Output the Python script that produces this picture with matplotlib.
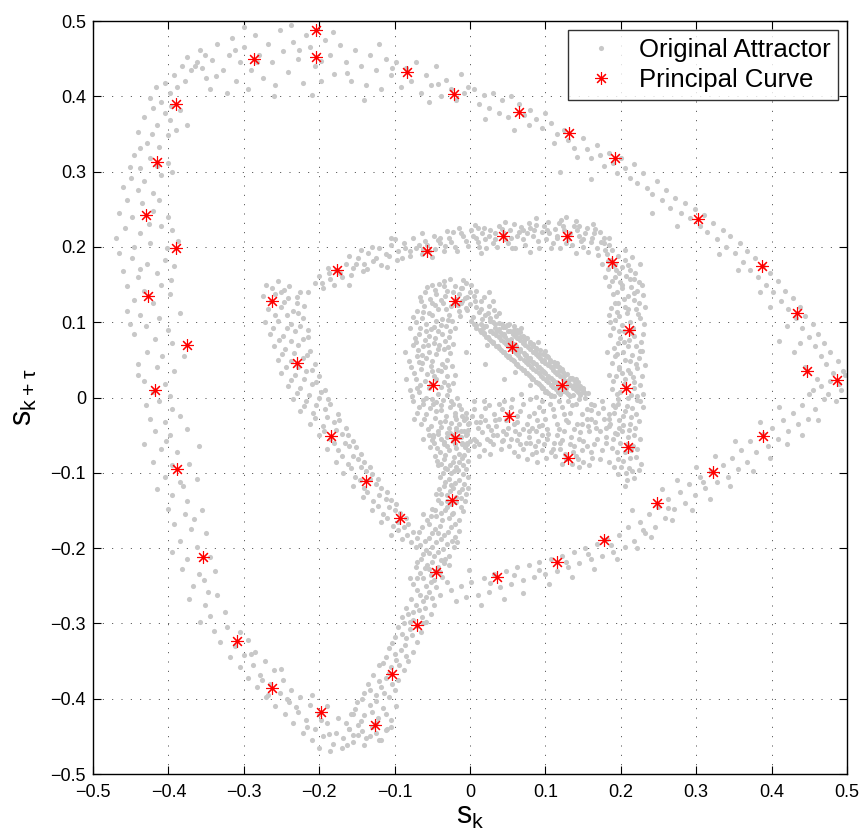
"""
Delay-embedded attractor (s_k vs s_k+tau) with its principal curve.
Grey dots = original attractor, red asterisks = principal curve nodes.
"""

import matplotlib
matplotlib.use("Agg")

import matplotlib.pyplot as plt
import numpy as np

plt.rcParams["font.family"] = ["Liberation Sans", "DejaVu Sans"]
plt.rcParams["mathtext.fontset"] = "custom"
plt.rcParams["mathtext.rm"] = "Liberation Sans"

# -- Principal curve nodes ----------------------------------------------------
curve_x = [-0.204, -0.204, -0.286, -0.084, -0.021, 0.065, 0.131, 0.192, 0.302,
           0.387, 0.434, 0.447, 0.487, 0.389, 0.322, 0.248, 0.178, 0.115,
           0.036, -0.045, -0.024, -0.070, -0.103, -0.126, -0.198, -0.263,
           -0.309, -0.354, -0.389, -0.418, -0.375, -0.427, -0.390, -0.430,
           -0.415, -0.390,
           -0.057, 0.044, 0.129, 0.188, 0.211, 0.207, 0.210, 0.130, 0.122,
           0.052, 0.056, -0.020, -0.049, -0.020, -0.176, -0.263, -0.229,
           -0.184, -0.138, -0.093]
curve_y = [0.488, 0.452, 0.449, 0.432, 0.403, 0.379, 0.351, 0.318, 0.237,
           0.175, 0.112, 0.035, 0.023, -0.051, -0.099, -0.140, -0.189, -0.218,
           -0.238, -0.232, -0.136, -0.302, -0.367, -0.435, -0.418, -0.386,
           -0.323, -0.212, -0.095, 0.010, 0.070, 0.135, 0.199, 0.242,
           0.313, 0.390,
           0.195, 0.214, 0.214, 0.180, 0.090, 0.013, -0.066, -0.080, 0.017,
           -0.025, 0.067, 0.128, 0.017, -0.054, 0.170, 0.128, 0.046,
           -0.051, -0.111, -0.160]

# -- Attractor points (units of 1/1000) --------------------------------------
outer_upper_left = [
    (-425, 398), (-410, 392), (-398, 405), (-388, 412), (-404, 418), (-378, 420),
    (-392, 428), (-370, 435), (-382, 440), (-362, 446), (-355, 438), (-375, 452),
    (-352, 455), (-420, 385), (-432, 372), (-405, 378), (-415, 362), (-398, 368),
    (-440, 352), (-422, 350), (-400, 348), (-385, 382), (-428, 338), (-412, 333),
    (-390, 355), (-375, 362), (-445, 322), (-425, 318), (-438, 305), (-415, 308),
    (-400, 312), (-450, 292), (-432, 288), (-410, 295), (-395, 300), (-440, 275),
    (-420, 272), (-460, 280), (-455, 262), (-435, 258), (-412, 262), (-465, 245),
    (-448, 240), (-420, 248), (-400, 240), (-458, 225), (-438, 218), (-410, 228),
    (-395, 222), (-470, 212), (-425, 205), (-445, 200), (-402, 198), (-465, 192),
    (-448, 185), (-428, 178), (-405, 182), (-392, 175), (-460, 168), (-440, 160),
    (-415, 165), (-455, 148), (-432, 142), (-410, 150), (-445, 130), (-420, 125),
    (-398, 138), (-455, 115), (-438, 110), (-412, 105), (-385, 112), (-430, 95),
    (-400, 90), (-445, 85), (-418, 78), (-395, 72), (-428, 60), (-408, 55),
    (-440, 45), (-415, 40), (-392, 35), (-432, 22), (-405, 18), (-420, 8),
    (-398, 2), (-440, 30), (-417, 412), (-396, 387), (-437, 331), (-451, 306),
    (-426, 231), (-387, 208), (-437, 171), (-397, 156), (-451, 97), (-379, 55),
]
outer_top = [
    (-365, 440), (-358, 462), (-350, 425), (-342, 448), (-335, 470), (-328, 435),
    (-320, 455), (-315, 478), (-310, 420), (-305, 445), (-300, 465), (-295, 410),
    (-290, 435), (-285, 482), (-280, 455), (-275, 425), (-268, 470), (-262, 445),
    (-258, 415), (-252, 488), (-248, 460), (-242, 432), (-235, 472), (-228, 450),
    (-222, 418), (-218, 482), (-212, 465), (-205, 440), (-198, 420), (-192, 475),
    (-185, 455), (-180, 430), (-172, 468), (-165, 445), (-158, 420), (-152, 462),
    (-145, 440), (-138, 415), (-132, 455), (-125, 435), (-118, 410), (-112, 450),
    (-105, 428), (-98, 445), (-92, 412), (-85, 438), (-78, 420), (-72, 445),
    (-65, 405), (-58, 428), (-52, 415), (-45, 440), (-38, 400), (-32, 422),
    (-25, 410), (-18, 395), (-12, 430), (-8, 405), (-322, 405), (-345, 410),
    (-260, 400), (-210, 402), (-140, 395), (-55, 392), (-300, 492), (-238, 495),
    (-182, 485), (-120, 470), (-337, 427), (-283, 446), (-227, 461), (-163, 431),
    (-103, 438), (-43, 417), (-2, 412), (-312, 462), (-197, 447),
]
outer_upper_right = [
    (5, 410), (18, 402), (12, 390), (30, 405), (25, 385), (42, 395), (38, 378),
    (55, 400), (50, 372), (65, 390), (72, 375), (80, 382), (78, 362), (88, 370),
    (95, 358), (100, 378), (108, 365), (115, 350), (112, 338), (125, 355),
    (130, 342), (138, 332), (142, 320), (150, 345), (155, 330), (160, 318),
    (168, 335), (172, 322), (178, 308), (185, 325), (190, 312), (195, 298),
    (200, 318), (205, 305), (212, 292), (218, 310), (222, 285), (230, 298),
    (235, 278), (242, 270), (248, 288), (255, 262), (260, 275), (265, 252),
    (272, 265), (280, 245), (285, 258), (292, 238), (298, 250), (305, 228),
    (310, 242), (315, 220), (322, 232), (328, 210), (335, 222), (340, 200),
    (345, 215), (352, 192), (358, 205), (362, 180), (368, 195), (372, 170),
    (378, 185), (382, 160), (388, 175), (392, 150), (398, 165), (402, 140),
    (408, 155), (412, 128), (418, 142), (422, 118), (428, 132), (432, 105),
    (438, 120), (440, 92), (445, 108), (450, 80), (455, 98), (458, 68),
    (462, 85), (465, 55), (470, 72), (472, 45), (478, 60), (482, 32), (488, 48),
    (490, 18), (495, 35), (420, 95), (410, 75), (430, 60), (445, 40), (460, 25),
    (455, 10), (475, 5), (438, 72), (398, 120), (385, 140), (355, 170),
    (330, 190), (275, 228), (242, 245), (160, 290), (120, 300), (58, 355),
    (20, 370),
]
outer_lower_right = [
    (498, 30), (492, 10), (485, -5), (478, 22), (470, -2), (465, 15), (458, -15),
    (450, 5), (448, -28), (440, -10), (435, -35), (428, -20), (422, -45),
    (415, -30), (408, -55), (400, -40), (395, -65), (388, -48), (380, -72),
    (372, -58), (368, -85), (360, -70), (355, -95), (348, -80), (342, -105),
    (335, -90), (328, -112), (320, -98), (312, -120), (305, -105), (298, -130),
    (290, -115), (285, -140), (278, -125), (270, -148), (262, -135), (258, -160),
    (250, -145), (245, -172), (238, -155), (232, -180), (225, -165), (218, -190),
    (210, -172), (205, -198), (198, -182), (190, -205), (182, -188), (175, -210),
    (168, -195), (160, -215), (152, -200), (145, -220), (138, -205), (130, -225),
    (122, -210), (115, -230), (108, -215), (100, -235), (92, -218), (85, -238),
    (78, -222), (70, -242), (62, -225), (55, -248), (48, -230), (40, -252),
    (32, -235), (25, -258), (18, -240), (10, -262), (2, -245), (-5, -265),
    (-12, -250), (-18, -270), (-25, -255), (15, -275), (45, -268), (70, -260),
    (105, -248), (135, -238), (165, -228), (195, -215), (222, -200), (240, -185),
    (268, -162), (295, -150), (318, -135), (345, -118), (375, -98), (398, -80),
    (420, -62), (440, -50), (462, -30), (410, -12), (385, -32), (352, -58),
    (325, -78), (300, -92), (275, -110), (215, -150), (255, -122),
    (-1, -229), (27, -246), (58, -236), (91, -229), (127, -219), (156, -208),
    (187, -196), (229, -176), (263, -147), (309, -112),
]
outer_lower_left = [
    (-430, -10), (-412, -5), (-395, -15), (-425, -28), (-405, -32), (-385, -25),
    (-418, -45), (-398, -50), (-375, -42), (-432, -62), (-410, -68), (-388, -72),
    (-360, -65), (-420, -85), (-395, -90), (-372, -88), (-405, -105), (-385, -112),
    (-362, -108), (-415, -122), (-395, -130), (-375, -138), (-400, -148),
    (-378, -155), (-355, -150), (-392, -168), (-370, -175), (-350, -180),
    (-385, -190), (-362, -198), (-395, -205), (-375, -215), (-345, -212),
    (-382, -228), (-360, -235), (-338, -230), (-368, -250), (-348, -258),
    (-372, -268), (-352, -275), (-335, -262), (-345, -290), (-325, -285),
    (-358, -298), (-403, -58), (-381, -118), (-366, -161), (-353, -243),
]
outer_bottom = [
    (-340, -310), (-322, -305), (-305, -312), (-332, -325), (-312, -330),
    (-295, -322), (-318, -345), (-300, -342), (-285, -338), (-305, -358),
    (-288, -355), (-272, -350), (-295, -372), (-278, -368), (-260, -362),
    (-282, -385), (-265, -380), (-248, -375), (-270, -398), (-252, -392),
    (-238, -388), (-258, -410), (-240, -405), (-225, -398), (-245, -420),
    (-228, -418), (-212, -408), (-235, -432), (-218, -428), (-200, -420),
    (-222, -445), (-205, -440), (-190, -432), (-210, -455), (-195, -450),
    (-178, -445), (-200, -465), (-182, -460), (-168, -452), (-185, -470),
    (-170, -465), (-155, -458), (-160, -440), (-148, -448), (-140, -462),
    (-132, -450), (-145, -430), (-125, -445), (-118, -455), (-110, -440),
    (-175, -425), (-190, -410), (-155, -420), (-210, -395), (-250, -360),
    (-268, -395), (-231, -411), (-216, -437), (-187, -447), (-163, -461),
    (-197, -428), (-243, -400), (-276, -375), (-291, -340),
]
stem = [
    (-55, -50), (-42, -48), (-30, -52), (-18, -45), (-5, -50), (-48, -60),
    (-35, -62), (-22, -58), (-10, -62), (-40, -72), (-28, -70), (-15, -75),
    (-3, -70), (-35, -82), (-22, -85), (-10, -80), (-42, -90), (-30, -95),
    (-18, -92), (-5, -95), (-25, -100), (-40, -105), (-28, -108), (-15, -110),
    (-3, -105), (-35, -118), (-22, -120), (-10, -122), (-45, -128), (-30, -130),
    (-18, -132), (-5, -128), (-38, -140), (-25, -142), (-12, -145), (-50, -148),
    (-33, -150), (-62, -155), (-45, -158), (-28, -160), (-15, -162), (-55, -168),
    (-40, -170), (-25, -172), (-68, -178), (-50, -180), (-35, -182), (-20, -185),
    (-60, -190), (-45, -192), (-30, -195), (-72, -198), (-58, -202), (-42, -205),
    (-28, -210), (-65, -215), (-50, -218), (-35, -220), (-72, -225), (-55, -228),
    (-40, -232), (-62, -240), (-48, -242), (-30, -245), (-75, -248), (-70, -255),
    (-55, -258), (-40, -262), (-78, -268), (-62, -270), (-48, -275), (-85, -280),
    (-68, -282), (-52, -288), (-90, -292), (-75, -295), (-58, -298), (-95, -305),
    (-80, -308), (-65, -312), (-100, -318), (-85, -320), (-70, -325), (-108, -332),
    (-92, -335), (-76, -338), (-112, -345), (-98, -348), (-82, -350), (-120, -355),
    (-105, -358), (-88, -362), (-128, -368), (-112, -372), (-95, -375),
    (-135, -380), (-118, -385), (-100, -388), (-140, -392), (-125, -395),
    (-108, -398), (-150, -405), (-132, -408), (-115, -412), (-98, -410),
    (-158, -420), (-140, -422), (-122, -425), (-105, -428), (-165, -432),
    (-148, -435), (-130, -438), (-112, -442), (-155, -448), (-138, -452),
    (-120, -455),
]
stem_dense = [
    (-62, -55), (-50, -57), (-38, -55), (-26, -47), (-12, -53), (0, -58),
    (-53, -66), (-44, -67), (-31, -65), (-19, -67), (-7, -66), (-47, -78),
    (-33, -76), (-21, -79), (-8, -76), (-39, -88), (-27, -89), (-14, -86),
    (-2, -84), (-36, -100), (-21, -98), (-9, -101), (-33, -112), (-20, -114),
    (-8, -115), (-41, -121), (-27, -124), (-14, -126), (-2, -120), (-43, -136),
    (-31, -137), (-18, -139), (-6, -137), (-47, -150), (-38, -153), (-22, -153),
    (-9, -151), (-57, -162), (-37, -163), (-20, -168), (-63, -172), (-46, -175),
    (-29, -178), (-14, -177), (-54, -186), (-39, -188), (-24, -191), (-66, -196),
    (-51, -199), (-36, -201), (-21, -198), (-62, -208), (-48, -211), (-33, -214),
    (-70, -219), (-57, -222), (-43, -225), (-28, -223), (-66, -233), (-52, -236),
    (-37, -238), (-80, -240), (-58, -250), (-45, -252), (-66, -262), (-50, -266),
    (-72, -276), (-60, -279), (-82, -288), (-64, -291), (-87, -300), (-70, -303),
    (-90, -314), (-77, -316), (-104, -326), (-86, -329), (-99, -341), (-85, -343),
    (-115, -352), (-94, -355), (-108, -366), (-121, -377), (-104, -380),
    (-133, -388), (-114, -392), (-143, -400), (-124, -403), (-152, -414),
    (-130, -418), (-112, -420), (-160, -440), (-143, -443), (-125, -432),
    (-105, -437),
    (-49, -52), (-35, -59), (-20, -62), (-4, -60), (-44, -84), (-16, -96),
    (-33, -93), (-9, -90), (-25, -116), (-38, -128), (-12, -133), (-30, -145),
    (-52, -158), (-24, -155), (-43, -180), (-17, -192), (-55, -207), (-39, -216),
    (-60, -227), (-47, -230), (-70, -240), (-52, -245), (-58, -265), (-76, -285),
    (-80, -298), (-62, -300),
]
inner_left = [
    (-270, 150), (-255, 155), (-240, 148), (-275, 135), (-258, 138), (-242, 132),
    (-225, 140), (-268, 118), (-250, 120), (-235, 115), (-220, 122), (-272, 100),
    (-255, 102), (-238, 98), (-222, 105), (-265, 85), (-248, 82), (-232, 88),
    (-215, 80), (-260, 68), (-245, 65), (-228, 70), (-212, 62), (-255, 50),
    (-238, 48), (-222, 52), (-205, 45), (-250, 32), (-232, 30), (-218, 35),
    (-200, 28), (-242, 15), (-225, 12), (-210, 18), (-192, 10), (-235, -2),
    (-218, -5), (-200, 0), (-185, -8), (-225, -18), (-208, -20), (-192, -15),
    (-175, -22), (-212, -35), (-195, -38), (-180, -32), (-165, -40), (-200, -50),
    (-185, -55), (-170, -48), (-155, -58), (-190, -68), (-175, -70), (-160, -65),
    (-145, -75), (-178, -85), (-162, -88), (-148, -82), (-132, -92), (-168, -100),
    (-152, -105), (-138, -98), (-122, -108), (-155, -118), (-140, -120),
    (-125, -115), (-110, -125), (-142, -132), (-128, -138), (-112, -135),
    (-98, -142), (-130, -150), (-115, -155), (-100, -150), (-85, -160),
    (-118, -165), (-102, -170), (-88, -172), (-75, -178), (-105, -182),
    (-90, -188), (-78, -192), (-250, 140), (-230, 125), (-215, 90),
    (-262, 145), (-247, 143), (-264, 128), (-246, 127), (-230, 133), (-259, 110),
    (-243, 109), (-228, 112), (-261, 93), (-243, 92), (-226, 95), (-253, 76),
    (-238, 75), (-222, 78), (-249, 58), (-233, 59), (-216, 56), (-244, 41),
    (-228, 40), (-210, 37), (-237, 23), (-220, 24), (-204, 20), (-229, 6),
    (-213, 4), (-197, 8), (-220, -11), (-204, -10), (-188, -2), (-206, -27),
    (-190, -26), (-174, -30), (-194, -44), (-178, -43), (-162, -50), (-181, -61),
    (-166, -60), (-151, -66), (-170, -77), (-155, -77), (-140, -86), (-158, -94),
    (-144, -92), (-130, -102), (-146, -110), (-132, -108), (-118, -120),
    (-136, -126), (-120, -130), (-105, -136), (-122, -144), (-108, -145),
    (-93, -154), (-110, -160), (-95, -165), (-82, -168), (-96, -176), (-84, -182),
    (-70, -186),
]
inner_top = [
    (-215, 140), (-205, 152), (-195, 145), (-200, 162), (-185, 158), (-178, 170),
    (-188, 172), (-170, 160), (-165, 178), (-155, 172), (-148, 185), (-160, 188),
    (-140, 178), (-135, 192), (-125, 185), (-120, 198), (-130, 200), (-112, 190),
    (-105, 202), (-95, 195), (-100, 210), (-88, 205), (-80, 195), (-75, 212),
    (-68, 202), (-60, 208), (-55, 195), (-48, 215), (-40, 205), (-35, 195),
    (-28, 212), (-20, 200), (-12, 218), (-5, 208), (2, 222), (8, 212), (12, 200),
    (18, 225), (25, 215), (30, 205), (38, 228), (45, 218), (50, 205), (58, 230),
    (65, 220), (70, 210), (78, 232), (85, 222), (90, 208), (98, 228), (105, 218),
    (110, 205), (118, 232), (125, 222), (130, 210), (138, 228), (145, 215),
    (150, 200), (155, 225), (162, 212), (168, 198), (172, 220), (178, 205),
    (182, 190), (185, 212), (-142, 168), (-90, 185), (-15, 225), (60, 198),
    (120, 198), (140, 235), (175, 178),
    (-196, 152), (-181, 149), (-172, 166), (-158, 163), (-151, 177), (-137, 171),
    (-128, 181), (-118, 176), (-108, 188), (-97, 182), (-86, 198), (-79, 188),
    (-71, 199), (-63, 191), (-57, 203), (-46, 197), (-43, 209), (-33, 201),
    (-25, 207), (-17, 195), (-9, 214), (-2, 201), (4, 215), (11, 207), (16, 218),
    (21, 199), (27, 223), (33, 210), (36, 200), (42, 224), (47, 211), (53, 222),
    (56, 199), (62, 214), (68, 227), (73, 203), (76, 218), (83, 214), (87, 229),
    (92, 199), (95, 220), (101, 211), (103, 233), (108, 198), (113, 224),
    (116, 212), (121, 236), (127, 205), (133, 218), (135, 202), (142, 223),
    (147, 208), (152, 219), (157, 193), (160, 206), (165, 218), (170, 189),
    (174, 207), (179, 196), (183, 181), (163, 230), (128, 240), (88, 238),
    (46, 233), (6, 229), (-31, 221), (-64, 218), (-105, 212), (-145, 196),
    (-187, 165), (-110, 174), (-50, 186), (14, 192), (79, 193), (141, 192),
    (-160, 150),
    (-22, 220), (10, 225), (33, 219), (55, 212), (80, 225), (102, 222),
    (124, 228), (144, 228), (166, 224), (178, 212), (188, 196), (-40, 212),
    (-62, 197), (20, 210), (70, 222), (115, 214), (150, 210), (185, 202),
]
inner_right = [
    (190, 175), (205, 182), (198, 165), (212, 170), (188, 155), (202, 150),
    (218, 158), (195, 140), (210, 135), (222, 142), (192, 125), (205, 120),
    (220, 118), (198, 108), (212, 100), (226, 105), (190, 92), (204, 88),
    (218, 82), (196, 72), (210, 68), (225, 62), (192, 55), (205, 50), (220, 45),
    (198, 38), (212, 32), (228, 28), (190, 22), (204, 18), (218, 12), (195, 5),
    (210, 0), (225, -5), (192, -12), (205, -18), (220, -22), (198, -30),
    (212, -35), (185, -38), (202, -45), (218, -50), (190, -55), (208, -62),
    (222, -68), (195, -72), (212, -80), (200, -92), (215, -98), (185, -85),
    (208, -110), (230, 85), (184, 110), (228, 150), (182, 60),
    (187, 183), (196, 188), (209, 176), (215, 186), (183, 171), (201, 173),
    (193, 160), (207, 161), (219, 166), (185, 148), (199, 153), (213, 147),
    (224, 153), (190, 137), (204, 131), (217, 129), (229, 136), (187, 119),
    (196, 126), (208, 112), (223, 111), (193, 103), (201, 96), (216, 93),
    (231, 97), (186, 83), (199, 79), (211, 76), (227, 74), (191, 66), (203, 61),
    (215, 57), (224, 52), (188, 46), (197, 41), (209, 37), (221, 39), (232, 43),
    (194, 28), (206, 24), (217, 21), (226, 16), (189, 11), (199, 7), (213, 4),
    (221, -3), (196, -8), (208, -11), (229, -13), (191, -21), (214, -26),
    (224, -31), (203, -37), (193, -47), (211, -43), (226, -55), (199, -60),
    (216, -65), (206, -73), (189, -67), (220, -79), (203, -84), (211, -93),
    (196, -102), (218, -107), (205, -117), (227, -88), (185, -28), (230, 5),
    (184, 30), (228, 62), (186, 100), (232, 120), (192, 178), (206, 196),
    (179, 160), (225, 178),
    (194, 170), (212, 158), (201, 145), (217, 139), (195, 113), (209, 118),
    (224, 126), (197, 88), (213, 86), (204, 74), (220, 68), (195, 58),
    (212, 48), (201, 33), (216, 27), (207, 12), (222, 2), (196, -2), (215, -14),
    (203, -24), (198, -40), (219, -40), (209, -52), (196, -82), (214, -70),
    (224, -96), (207, -100), (191, -92),
]
core_left = [
    (-50, 150), (-35, 155), (-20, 148), (-5, 152), (-60, 140), (-45, 138),
    (-30, 142), (-15, 138), (0, 140), (-65, 128), (-50, 125), (-38, 130),
    (-25, 122), (-10, 128), (-70, 115), (-55, 112), (-42, 118), (-28, 110),
    (-15, 115), (-72, 100), (-58, 98), (-45, 102), (-32, 95), (-68, 85),
    (-55, 82), (-42, 88), (-28, 80), (-75, 70), (-62, 68), (-48, 72), (-35, 65),
    (-70, 55), (-58, 52), (-45, 58), (-30, 50), (-78, 40), (-65, 38), (-52, 42),
    (-38, 35), (-72, 25), (-60, 22), (-48, 28), (-35, 20), (-80, 10), (-68, 8),
    (-55, 12), (-42, 5), (-28, 10), (-75, -5), (-62, -8), (-50, -2), (-38, -10),
    (-25, -5), (-70, -20), (-58, -22), (-45, -18), (-32, -25), (-20, -20),
    (-65, -35), (-52, -38), (-40, -32), (-28, -40), (-15, -35), (-8, -45),
    (-57, 147), (-41, 151), (-27, 157), (-12, 146), (2, 149), (-66, 134),
    (-53, 131), (-33, 135), (-19, 131), (-4, 134), (-61, 121), (-46, 123),
    (-32, 117), (-21, 125), (-5, 119), (-76, 107), (-63, 106), (-51, 109),
    (-37, 104), (-24, 101), (-66, 93), (-52, 91), (-39, 96), (-27, 89),
    (-73, 79), (-60, 76), (-47, 79), (-33, 75), (-22, 71), (-69, 63), (-55, 61),
    (-42, 65), (-26, 59), (-81, 49), (-64, 46), (-51, 48), (-37, 44), (-24, 42),
    (-74, 32), (-57, 31), (-43, 36), (-30, 28), (-66, 17), (-52, 18), (-39, 14),
    (-23, 19), (-77, 2), (-58, 0), (-45, -6), (-31, 3), (-17, 0), (-67, -13),
    (-53, -14), (-39, -16), (-26, -12), (-12, -15), (-61, -28), (-47, -27),
    (-33, -31), (-19, -28), (-5, -27), (-56, -42), (-43, -45), (-31, -47),
    (-18, -41), (-2, -43), (-85, 25), (-86, 60), (-80, 92),
    (-47, 143), (-23, 140), (-9, 156), (-62, 113), (-36, 125), (-13, 108),
    (-58, 88), (-48, 94), (-20, 93), (-71, 74), (-41, 70), (-29, 67), (-63, 57),
    (-50, 35), (-33, 40), (-20, 30), (-70, 13), (-45, 24), (-29, 17), (-62, -3),
    (-36, -3), (-22, -9), (-74, -28), (-49, -9), (-25, -34), (-11, -24),
    (-38, -39), (-49, -50), (-14, -52), (-1, -34), (-35, 148), (-16, 123),
    (-29, 103), (-67, 47), (-56, 70), (-37, 85),
]
core_blob = [
    (-12, 126), (0, 124), (8, 120), (-4, 116), (12, 113), (20, 110), (4, 107),
    (16, 104), (27, 106), (35, 108), (-6, 132), (6, 128), (15, 118), (24, 112),
    (5, 135), (15, 128), (25, 122), (32, 116), (25, 140), (-10, 145), (8, 142),
    (19, 134), (38, 112), (30, 128),
]
core_diagonal = [
    (2, 101), (14, 98), (27, 102), (39, 99), (8, 96), (20, 95), (33, 97),
    (44, 94), (8, 93), (21, 95), (33, 92), (46, 94), (13, 90), (26, 89),
    (39, 91), (51, 88), (15, 87), (28, 89), (41, 86), (53, 88), (19, 84),
    (31, 86), (44, 83), (57, 85), (21, 81), (34, 83), (47, 80), (60, 82),
    (25, 78), (38, 80), (51, 77), (63, 79), (28, 75), (41, 77), (54, 74),
    (66, 76), (31, 72), (45, 74), (58, 71), (70, 73), (35, 69), (48, 71),
    (61, 68), (73, 70), (38, 66), (51, 68), (64, 65), (77, 67), (41, 63),
    (54, 65), (67, 62), (80, 64), (45, 60), (58, 62), (71, 59), (83, 61),
    (48, 57), (61, 59), (74, 56), (87, 58), (51, 54), (64, 56), (77, 53),
    (90, 55), (54, 51), (67, 53), (80, 50), (93, 52), (58, 48), (71, 50),
    (84, 47), (96, 49), (61, 45), (74, 47), (87, 44), (100, 46), (64, 42),
    (77, 44), (90, 41), (103, 43), (68, 39), (81, 41), (94, 38), (107, 40),
    (71, 36), (84, 38), (97, 35), (110, 37), (74, 33), (87, 35), (100, 32),
    (113, 34), (78, 30), (91, 32), (104, 29), (116, 31), (81, 27), (94, 29),
    (107, 26), (120, 28), (84, 24), (97, 26), (110, 23), (123, 25), (88, 21),
    (101, 23), (114, 20), (126, 22), (91, 18), (104, 20), (117, 17), (130, 19),
    (94, 15), (107, 17), (120, 14), (133, 16), (97, 12), (110, 14), (123, 11),
    (136, 13), (101, 9), (114, 11), (127, 8), (140, 10), (104, 6), (117, 8),
    (130, 5), (143, 7), (107, 3), (120, 5), (133, 2), (146, 4),
    (65, 88), (100, 56), (118, 40), (140, 25), (150, 12), (72, 80), (50, 96),
    (20, 45), (45, 25), (-5, 60),
    (5, 97), (31, 100), (17, 92), (49, 96), (19, 86), (36, 88), (58, 90),
    (24, 80), (45, 84), (66, 81), (30, 74), (55, 78), (72, 75), (37, 68),
    (60, 70), (79, 72), (44, 61), (66, 64), (86, 62), (52, 55), (73, 57),
    (92, 58), (57, 50), (79, 52), (98, 50), (62, 44), (84, 46), (106, 47),
    (70, 37), (92, 40), (112, 42), (75, 32), (98, 34), (118, 35), (82, 25),
    (104, 27), (125, 29), (90, 19), (111, 21), (131, 23), (95, 13), (118, 15),
    (138, 17), (100, 8), (124, 9), (146, 12), (112, 2), (137, 3), (152, 6),
    (42, 98), (62, 86), (84, 68), (104, 54), (122, 38), (143, 20), (68, 92),
    (90, 74), (100, 62), (115, 46), (135, 26),
    # fuzzy outer edge of the diagonal
    (52, 98), (58, 95), (62, 90), (66, 87), (70, 82), (75, 79), (79, 74),
    (84, 71), (88, 66), (93, 63), (97, 58), (102, 55), (106, 50), (111, 47),
    (115, 42), (120, 39), (124, 34), (129, 31), (133, 26), (138, 23),
    (141, 18), (146, 15), (150, 10), (156, 6), (22, 70), (60, 34), (80, 16),
]
core_bottom = [
    (-15, -10), (-5, -20), (5, -15), (15, -25), (25, -10), (-2, -35), (10, -40),
    (20, -30), (32, -22), (42, -15), (35, -38), (48, -30), (55, -12), (62, -25),
    (70, -8), (75, -35), (85, -20), (92, -12), (100, -28), (110, -15),
    (118, -5), (125, -22), (135, -10), (145, -2), (150, 8), (140, 15),
    (128, 12), (115, -35), (102, -42), (88, -45), (60, -45), (30, -50),
    (5, -55), (-10, -60), (45, -5), (18, -5), (-22, -50), (68, 5), (155, -15),
    (130, -32), (-20, -25), (-8, -30), (3, -25), (13, -33), (24, -38),
    (38, -28), (51, -22), (58, -35), (66, -18), (78, -24), (89, -30), (97, -18),
    (106, -8), (112, -25), (122, -12), (132, -20), (140, -8), (148, -22),
    (152, 0), (160, -8), (96, -36), (82, -40), (70, -42), (44, -45), (16, -46),
    (-4, -49), (39, -8), (56, -2), (20, -14), (5, -5), (80, -2), (95, -5),
    (108, 2), (88, 1), (130, -5),
]
lower_band = [
    (5, -65), (18, -70), (30, -62), (42, -58), (55, -55), (65, -48), (78, -52),
    (90, -58), (102, -55), (115, -50), (125, -45), (138, -42), (148, -35),
    (160, -28), (170, -20), (175, -5), (165, -10), (158, -45), (145, -55),
    (132, -62), (120, -68), (108, -72), (95, -70), (82, -75), (70, -68),
    (58, -72), (140, -78), (128, -82), (155, -65), (168, -55), (180, -40),
    (185, -22), (175, -70), (150, -85), (162, -80), (190, -10), (135, -88),
    (8, -58), (22, -55), (36, -50), (48, -48), (63, -56), (74, -60), (86, -65),
    (98, -62), (111, -60), (122, -56), (134, -52), (146, -46), (157, -38),
    (166, -32), (178, -28), (186, -35), (172, -45), (164, -62), (149, -70),
    (137, -72), (126, -75), (113, -78), (101, -80), (89, -85), (76, -82),
    (64, -78), (52, -64), (41, -68), (27, -75), (12, -78), (144, -92),
    (158, -90), (172, -82), (181, -60), (195, -48), (160, -16), (150, -58),
    (-12, -44), (8, -33), (28, -43), (33, -30), (50, -41), (63, -33), (78, -44),
    (92, -38), (104, -48), (118, -42), (128, -30), (142, -35), (155, -28),
    (167, -40), (176, -14), (180, -52), (120, -60), (96, -50), (80, -60),
    (66, -62), (44, -56), (26, -58), (12, -62), (-4, -62), (138, -64),
    (110, -68), (88, -73), (160, -72), (143, -82), (122, -88),
]

tick_values = [-0.5, -0.4, -0.3, -0.2, -0.1, 0.0, 0.1, 0.2, 0.3, 0.4, 0.5]
tick_labels = ["\u22120.5", "\u22120.4", "\u22120.3", "\u22120.2", "\u22120.1",
               "0", "0.1", "0.2", "0.3", "0.4", "0.5"]

regions = [outer_upper_left, outer_top, outer_upper_right, outer_lower_right,
           outer_lower_left, outer_bottom, stem, stem_dense, inner_left,
           inner_top, inner_right, core_left, core_blob, core_diagonal,
           core_bottom, lower_band]
attractor = np.array([p for r in regions for p in r], dtype=float) / 1000.0

# -- Plot ---------------------------------------------------------------------
fig = plt.figure(figsize=(8.61, 8.32), dpi=100)
ax = fig.add_axes([0.108, 0.0697, 0.8757, 0.905])

ax.plot(attractor[:, 0], attractor[:, 1], linestyle="none", marker="o",
        markersize=3.7, markeredgewidth=0, color="#c8c8c8",
        label="Original Attractor")
ax.plot(curve_x, curve_y, linestyle="none", marker=(8, 2, 0),
        markersize=9, markeredgewidth=0.8, color="#ff0000",
        label="Principal Curve")

ax.set_xlim(-0.5, 0.5)
ax.set_ylim(-0.5, 0.5)
ax.set_xticks(tick_values)
ax.set_xticklabels(tick_labels)
ax.set_yticks(tick_values)
ax.set_yticklabels(tick_labels)
ax.tick_params(direction="in", length=5.5, width=0.8, top=True, right=True,
               labelsize=13, colors="black")
ax.tick_params(axis="x", pad=7)
ax.tick_params(axis="y", pad=5)

ax.grid(True, color="0.15", linewidth=0.6, linestyle=(0, (1.2, 10)))
ax.set_axisbelow(True)
for sp in ax.spines.values():
    sp.set_linewidth(1.0)

ax.set_xlabel(r"$\mathregular{s_k}$", fontsize=22, labelpad=0)
ax.set_ylabel(r"$\mathregular{s_{k+τ}}$", fontsize=22, labelpad=8)

leg = ax.legend(loc="upper right", fontsize=18.5, frameon=True, fancybox=False,
                edgecolor="black", borderaxespad=0.35, borderpad=0.3,
                labelspacing=0.25, handlelength=2.0, handletextpad=0.45,
                numpoints=1)
leg.get_frame().set_linewidth(1.0)

fig.savefig("out.png", dpi=100, facecolor="white")
plt.close(fig)
